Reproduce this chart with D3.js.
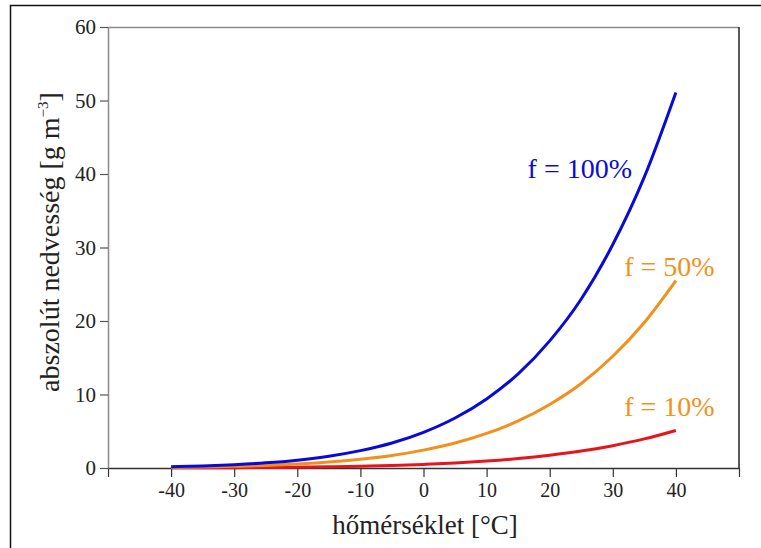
<!DOCTYPE html>
<html>
<head>
<meta charset="utf-8">
<script src="https://cdn.jsdelivr.net/npm/d3@7"></script>
<style>
  body { margin: 0; background: #fff; }
</style>
</head>
<body>
<div id="chart"></div>
<script>
// temperature [°C]
var temps = [-40, -35, -30, -25, -20, -15, -10, -5, 0, 5, 10, 15, 20, 25, 30, 35, 40]
// absolute humidity [g m-3] at relative humidity 100%, 50%, 10%
var f100 = [0.18, 0.28, 0.45, 0.70, 1.07, 1.60, 2.36, 3.40, 4.85, 6.80, 9.40, 12.8, 17.3, 23.0, 30.4, 39.6, 51.1]
var f50 = [0.09, 0.14, 0.23, 0.35, 0.54, 0.80, 1.18, 1.70, 2.43, 3.40, 4.70, 6.40, 8.65, 11.5, 15.2, 19.8, 25.5]
var f10 = [0.02, 0.03, 0.05, 0.07, 0.11, 0.16, 0.24, 0.34, 0.49, 0.68, 0.94, 1.28, 1.73, 2.30, 3.04, 3.96, 5.11]
var xTicks = [-50, -40, -30, -20, -10, 0, 10, 20, 30, 40, 50]
var yTicks = [0, 10, 20, 30, 40, 50, 60]

var serif = '"Liberation Serif", "DejaVu Serif", serif'

var series = [
    { name: "f = 100%", values: f100, color: "#0a0ad8", label: [16.5, 178], labelColor: "#0a0ad8" },
    { name: "f = 50%", values: f50, color: "#f3901c", label: [31.8, 276], labelColor: "#f3901c" },
    { name: "f = 10%", values: f10, color: "#e8141c", label: [31.8, 416], labelColor: "#f3901c" }
]

var W = 761, H = 548
var margin = { top: 27, right: 22, bottom: 80, left: 108 },
    width = W - margin.left - margin.right,
    height = H - margin.top - margin.bottom

var svg = d3.select("#chart")
    .append("svg")
    .attr("width", W)
    .attr("height", H)

// outer frame
svg.append("rect")
    .attr("x", 10.5).attr("y", 5.5)
    .attr("width", W + 20).attr("height", H + 20)
    .attr("fill", "none")
    .attr("stroke", "#111")
    .attr("stroke-width", 1.5)

var g = svg.append("g")
    .attr("transform", "translate(" + margin.left + "," + margin.top + ")")

var x = d3.scaleLinear().domain([-50, 50]).range([0, width])
var y = d3.scaleLinear().domain([0, 60]).range([height, 0])

// plot box top and right
g.append("line")
    .attr("x1", 0).attr("x2", width).attr("y1", 0.5).attr("y2", 0.5)
    .attr("stroke", "#8a8a8a").attr("stroke-width", 1.5)
g.append("line")
    .attr("x1", width).attr("x2", width).attr("y1", 0).attr("y2", height)
    .attr("stroke", "#222").attr("stroke-width", 1.5)

// axes
var xAxis = d3.axisBottom(x).tickValues(xTicks).tickSize(9).tickSizeOuter(0)
    .tickFormat(function (d) { return (d === -50 || d === 50) ? "" : d })
var yAxis = d3.axisLeft(y).tickValues(yTicks).tickSize(8).tickSizeOuter(0)

var gx = g.append("g")
    .attr("transform", "translate(0," + height + ")")
    .call(xAxis)
gx.attr("font-family", null)
gx.select(".domain").attr("stroke", "#333").attr("stroke-width", 1.5)
gx.selectAll(".tick line").attr("stroke", "#333").attr("stroke-width", 1.2)
gx.selectAll(".tick text")
    .attr("y", 15)
    .attr("dy", "0.71em")
    .style("font-family", serif)
    .style("font-size", "20px")
    .attr("fill", "#222")

var gy = g.append("g").call(yAxis)
gy.attr("font-family", null)
gy.select(".domain").attr("stroke", "#8a8a8a").attr("stroke-width", 1.5)
gy.selectAll(".tick line").attr("stroke", "#555").attr("stroke-width", 1.2)
gy.selectAll(".tick text")
    .attr("x", -12)
    .style("font-family", serif)
    .style("font-size", "21px")
    .attr("fill", "#222")

// lines
var line = d3.line()
    .x(function (d) { return x(d[0]) })
    .y(function (d) { return y(d[1]) })
    .curve(d3.curveMonotoneX)

series.slice().reverse().forEach(function (s) {
    g.append("path")
        .datum(temps.map(function (t, i) { return [t, s.values[i]] }))
        .attr("fill", "none")
        .attr("stroke", s.color)
        .attr("stroke-width", 3)
        .attr("d", line)
})

// series labels
series.forEach(function (s) {
    g.append("text")
        .attr("x", x(s.label[0]))
        .attr("y", s.label[1] - margin.top)
        .attr("fill", s.labelColor)
        .style("font-family", serif)
        .style("font-size", "28px")
        .text(s.name)
})

// axis titles
svg.append("text")
    .attr("x", 425)
    .attr("y", 534)
    .attr("text-anchor", "middle")
    .attr("fill", "#222")
    .style("font-family", serif)
    .style("font-size", "27px")
    .text("hőmérséklet [°C]")

var yt = svg.append("text")
    .attr("transform", "translate(59,242) rotate(-90)")
    .attr("text-anchor", "middle")
    .attr("fill", "#222")
    .style("font-family", serif)
    .style("font-size", "28px")
yt.append("tspan").text("abszolút nedvesség [g m")
yt.append("tspan").attr("dy", -11).style("font-size", "15px").text("−3")
yt.append("tspan").attr("dy", 11).text("]")
</script>
</body>
</html>
